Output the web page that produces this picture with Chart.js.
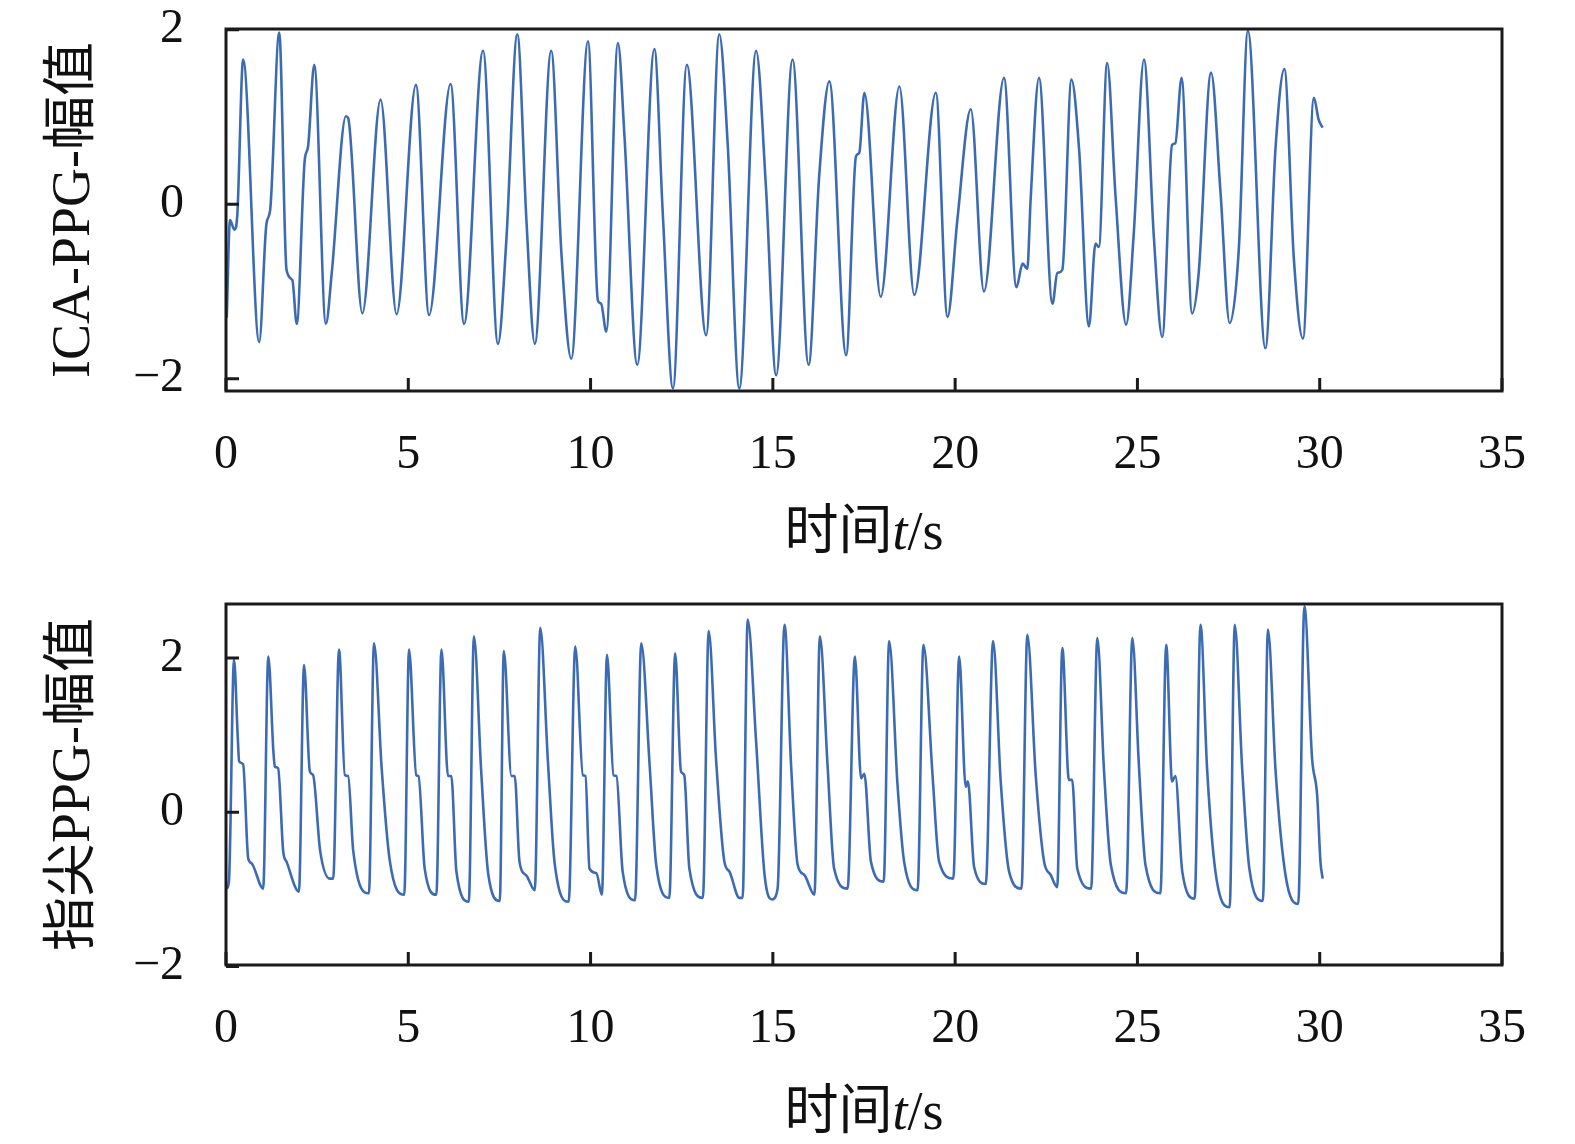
<!DOCTYPE html>
<html>
<head>
<meta charset="utf-8">
<script src="https://cdn.jsdelivr.net/npm/chart.js@4.4.1/dist/chart.umd.min.js"></script>
<style>
  body { margin: 0; background: #fff; }
  canvas { position: absolute; left: 0; }
  #top-chart { top: 0; }
  #bottom-chart { top: 572px; }
</style>
</head>
<body>
<canvas id="top-chart" width="1575" height="572"></canvas>
<canvas id="bottom-chart" width="1575" height="572"></canvas>
<script>
// ICA-PPG signal, time (s) and amplitude
const icaT = [0.02,0.11,0.23,0.31,0.47,0.91,1.11,1.21,1.46,1.66,1.82,1.94,2.16,2.25,2.42,2.74,2.90,3.29,3.35,3.74,4.24,4.68,5.21,5.57,6.16,6.53,7.05,7.46,7.69,7.99,8.24,8.47,8.92,9.20,9.47,9.93,10.20,10.29,10.43,10.75,10.93,11.28,11.75,11.98,12.26,12.64,13.17,13.53,13.76,14.08,14.54,14.81,15.09,15.54,15.98,16.27,16.55,17.01,17.28,17.37,17.51,17.96,18.47,18.88,19.47,19.79,20.06,20.43,20.79,21.34,21.68,21.85,21.98,22.07,22.30,22.67,22.80,22.94,23.19,23.40,23.67,23.85,23.94,24.17,24.40,24.69,24.90,25.18,25.45,25.68,25.95,26.04,26.21,26.50,26.68,27.02,27.28,27.53,27.78,28.03,28.51,28.79,29.03,29.29,29.54,29.84,29.97,30.08];
const icaV = [-1.30,-0.18,-0.29,-0.12,1.66,-1.58,-0.22,-0.07,1.97,-0.75,-0.87,-1.37,0.51,0.66,1.60,-1.37,-0.79,1.01,0.99,-1.25,1.20,-1.26,1.37,-1.27,1.38,-1.37,1.76,-1.60,-0.41,1.95,-0.18,-1.60,1.76,-0.56,-1.77,1.87,-1.10,-1.14,-1.46,1.85,0.78,-1.84,1.78,-0.10,-2.11,1.60,-1.50,1.95,0.70,-2.11,1.76,0.20,-1.96,1.66,-1.84,0.32,1.41,-1.73,0.55,0.59,1.28,-1.06,1.35,-1.04,1.28,-1.29,-0.18,1.09,-1.00,1.45,-0.95,-0.68,-0.74,0.05,1.45,-1.14,-0.79,-0.75,1.43,0.63,-1.40,-0.45,-0.49,1.62,0.09,-1.38,-0.33,1.66,-0.37,-1.52,0.68,0.70,1.45,-1.25,-0.79,1.51,0.13,-1.36,-0.52,1.99,-1.65,0.66,1.55,-0.62,-1.54,1.22,0.97,0.88];

// fingertip PPG signal from the bottom panel
const fingerT = [0.02,0.08,0.22,0.32,0.36,0.47,0.61,0.70,1.02,1.16,1.30,1.34,1.43,1.57,1.66,2.00,2.14,2.30,2.39,2.58,2.85,2.94,3.10,3.26,3.35,3.49,3.92,4.06,4.27,4.49,4.89,5.02,5.22,5.28,5.45,5.77,5.91,6.09,6.18,6.32,6.66,6.80,7.00,7.19,7.51,7.62,7.83,7.92,8.05,8.24,8.47,8.62,8.83,9.01,9.40,9.58,9.79,9.86,9.97,10.16,10.31,10.45,10.63,10.71,10.88,11.22,11.39,11.62,11.80,12.16,12.32,12.48,12.57,12.71,13.08,13.24,13.44,13.67,13.81,14.08,14.17,14.31,14.54,14.77,14.98,15.13,15.32,15.50,15.68,15.86,16.14,16.29,16.50,16.68,17.05,17.25,17.42,17.51,17.69,18.04,18.19,18.42,18.60,18.97,19.13,19.38,19.56,19.95,20.11,20.29,20.35,20.52,20.84,21.04,21.25,21.48,21.82,21.98,22.21,22.44,22.62,22.80,22.94,23.12,23.21,23.35,23.73,23.90,24.08,24.27,24.69,24.86,25.04,25.22,25.63,25.79,25.95,26.04,26.23,26.57,26.73,26.91,27.14,27.53,27.67,27.87,28.07,28.44,28.58,28.79,29.06,29.41,29.58,29.79,29.93,30.02,30.08];
const fingerV = [-0.99,-0.90,1.98,1.00,0.66,0.62,-0.60,-0.66,-0.99,2.02,0.79,0.59,0.57,-0.51,-0.64,-1.03,1.91,0.53,0.48,-0.49,-0.86,-0.86,2.11,0.48,0.47,-0.50,-1.05,2.19,0.57,-0.62,-1.07,2.11,0.48,0.47,-0.73,-1.07,2.11,0.47,0.47,-0.77,-1.16,2.28,0.53,-0.79,-1.15,2.09,0.47,0.47,-0.64,-0.82,-1.01,2.39,0.66,-0.64,-1.16,2.15,0.48,0.47,-0.73,-0.79,-1.07,2.04,0.48,0.47,-0.77,-1.14,2.19,0.61,-0.68,-1.11,2.06,0.53,0.48,-0.73,-1.11,2.35,0.70,-0.64,-0.77,-1.11,-1.11,2.50,0.92,-0.80,-1.13,-0.99,2.43,0.61,-0.68,-0.81,-1.07,2.28,0.61,-0.73,-0.99,2.02,0.44,0.50,-0.64,-0.90,2.22,0.35,-0.64,-1.01,2.17,0.48,-0.64,-0.86,2.02,0.33,0.40,-0.71,-0.93,2.22,0.40,-0.77,-0.99,2.30,0.48,-0.64,-0.81,-0.97,2.13,0.42,0.42,-0.73,-0.99,2.26,0.57,-0.68,-1.05,2.26,0.61,-0.68,-1.05,2.17,0.40,0.47,-0.77,-1.12,2.43,0.57,-0.77,-1.23,2.43,0.59,-0.73,-1.15,2.37,0.53,-0.81,-1.19,2.67,0.70,0.22,-0.64,-0.86];

const xTicks = [0, 5, 10, 15, 20, 25, 30, 35];
const yTicksTop = [-2, 0, 2];
const yTicksBottom = [-2, 0, 2];

const serif = '"Liberation Serif", "Times New Roman", "Noto Sans CJK SC", serif';

// frame around the plot plus inward tick marks and the mixed-style x title
const framePlugin = {
  id: 'frame-and-title',
  afterDraw(chart) {
    const { ctx, chartArea: { left, right, top, bottom } } = chart;
    const xs = chart.scales.x, ys = chart.scales.y;
    ctx.save();
    ctx.strokeStyle = '#1a1a1a';
    ctx.lineWidth = 3;
    ctx.strokeRect(left, top, right - left, bottom - top);
    ctx.beginPath();
    xs.ticks.forEach(t => {
      const px = xs.getPixelForValue(t.value);
      ctx.moveTo(px, bottom);
      ctx.lineTo(px, bottom - 13);
    });
    ys.ticks.forEach(t => {
      const py = ys.getPixelForValue(t.value);
      ctx.moveTo(left, py);
      ctx.lineTo(left + 13, py);
    });
    ctx.stroke();

    const parts = [
      { text: '时间', font: `54px ${serif}` },
      { text: 't', font: `italic 54px ${serif}` },
      { text: '/s', font: `54px ${serif}` }
    ];
    let total = 0;
    parts.forEach(p => { ctx.font = p.font; p.w = ctx.measureText(p.text).width; total += p.w; });
    let x = (left + right) / 2 - total / 2;
    const y = bottom + chart.options.xTitleOffset;
    ctx.fillStyle = '#111';
    ctx.textBaseline = 'middle';
    ctx.textAlign = 'left';
    parts.forEach(p => { ctx.font = p.font; ctx.fillText(p.text, x, y); x += p.w; });
    ctx.restore();
  }
};

const makeChart = (id, tArr, vArr, yMin, yMax, yTicks, yTitle, padTop, xHeight, titleOffset) => {
  const ctx = document.getElementById(id).getContext('2d');
  return new Chart(ctx, {
    type: 'line',
    data: {
      datasets: [{
        data: tArr.map((t, i) => ({ x: t, y: vArr[i] })),
        borderColor: '#3d6bb3',
        borderWidth: 2.6,
        pointRadius: 0,
        cubicInterpolationMode: 'monotone',
        fill: false
      }]
    },
    options: {
      responsive: false,
      animation: false,
      xTitleOffset: titleOffset,
      layout: { padding: { top: padTop, right: 73, left: 0, bottom: 0 } },
      plugins: { legend: { display: false }, tooltip: { enabled: false } },
      scales: {
        x: {
          type: 'linear',
          min: 0,
          max: 35,
          grid: { display: false, drawTicks: false },
          border: { display: false },
          afterBuildTicks: s => { s.ticks = xTicks.map(v => ({ value: v })); },
          afterFit: s => { s.height = xHeight; s.paddingLeft = 0; s.paddingRight = 0; },
          ticks: { color: '#111', padding: 36, maxRotation: 0, font: { family: serif, size: 48 } }
        },
        y: {
          min: yMin,
          max: yMax,
          grid: { display: false, drawTicks: false },
          border: { display: false },
          afterBuildTicks: s => { s.ticks = yTicks.map(v => ({ value: v })); },
          afterFit: s => { s.width = 226; s.paddingTop = 0; s.paddingBottom = 0; },
          ticks: {
            color: '#111',
            padding: 42,
            font: { family: serif, size: 48 },
            callback: v => (v < 0 ? '\u2212' + Math.abs(v) : String(v))
          },
          title: {
            display: true,
            text: yTitle,
            color: '#111',
            padding: { top: 48 },
            font: { family: serif, size: 54, lineHeight: 1 }
          }
        }
      }
    },
    plugins: [framePlugin]
  });
};

makeChart('top-chart', icaT, icaV, -2.14, 2.01, yTicksTop, 'ICA-PPG-幅值', 29, 181, 144);
makeChart('bottom-chart', fingerT, fingerV, -1.98, 2.7, yTicksBottom, '指尖PPG-幅值', 32, 179, 150);
</script>
</body>
</html>
